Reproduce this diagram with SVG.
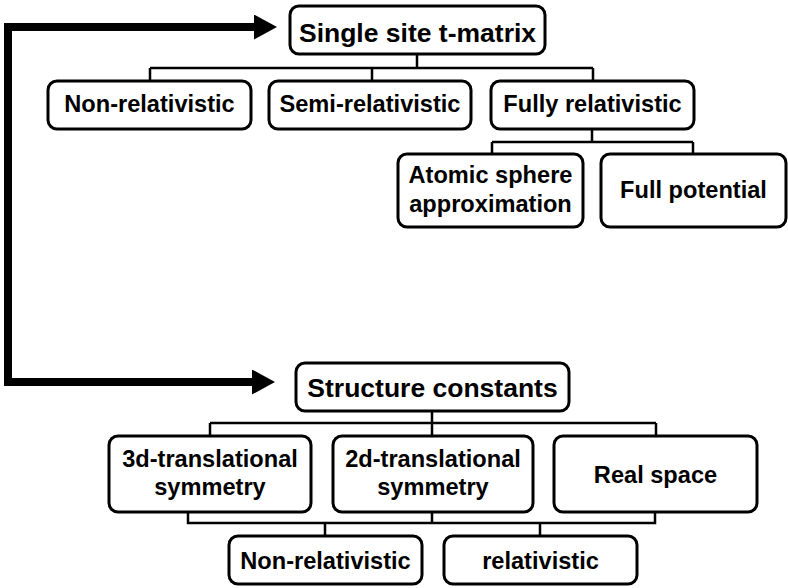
<svg xmlns="http://www.w3.org/2000/svg" width="788" height="588" viewBox="0 0 788 588">
<defs>
<style>
.node rect{fill:#fff;stroke:#000;stroke-width:3}
.node text{font-family:"Liberation Sans",Arial,sans-serif;font-weight:bold;font-size:23.6px;fill:#000;text-anchor:middle}
.node text.big{font-size:26.5px}
.conn{fill:none;stroke:#000;stroke-width:2.5}
.arrow{fill:none;stroke:#000;stroke-width:8;stroke-linecap:square;stroke-linejoin:miter}
</style>
<marker id="head" markerUnits="userSpaceOnUse" markerWidth="24" markerHeight="26" refX="0" refY="12.5" orient="auto">
<path d="M0,0 L23,12.5 L0,25 Z" fill="#000"/>
</marker>
</defs>
<rect width="788" height="588" fill="#fff"/>
<g id="connectors">
<path class="arrow" d="M8,382 V27 H254" marker-end="url(#head)"/>
<path class="arrow" d="M8,382 H252" marker-end="url(#head)"/>
<path class="conn" d="M417,54 V68 M150,68 H593 M150,68 V81 M372,68 V81 M593,68 V81"/>
<path class="conn" d="M592,129 V142 M492,142 H693 M492,142 V154 M693,142 V154"/>
<path class="conn" d="M432,411 V423 M210,423 H656 M210,423 V436 M432,423 V436 M656,423 V436"/>
<path class="conn" d="M188,512 V523 H655 V512 M432,512 V523 M325,523 V536 M540,523 V536"/>
</g>
<g id="single-site" class="node"><rect x="290" y="6" width="255" height="48" rx="9"/><text class="big" x="417.5" y="42">Single site t-matrix</text></g>
<g id="non-rel-1" class="node"><rect x="48" y="81" width="203" height="48" rx="9"/><text x="149.5" y="112">Non-relativistic</text></g>
<g id="semi-rel" class="node"><rect x="269" y="81" width="202" height="48" rx="9"/><text x="370" y="112">Semi-relativistic</text></g>
<g id="fully-rel" class="node"><rect x="491" y="81" width="203" height="48" rx="9"/><text x="592.5" y="112">Fully relativistic</text></g>
<g id="asa" class="node"><rect x="398" y="154" width="185" height="73" rx="9"/><text x="490.5" y="183">Atomic sphere</text><text x="490.5" y="212">approximation</text></g>
<g id="full-pot" class="node"><rect x="601" y="154" width="185" height="73" rx="9"/><text x="693.5" y="198">Full potential</text></g>
<g id="structure" class="node"><rect x="296" y="363" width="273" height="48" rx="9"/><text class="big" x="432.5" y="397">Structure constants</text></g>
<g id="three-d" class="node"><rect x="109" y="436" width="202" height="76" rx="9"/><text x="210" y="467">3d-translational</text><text x="210" y="495">symmetry</text></g>
<g id="two-d" class="node"><rect x="333" y="436" width="200" height="76" rx="9"/><text x="433" y="467">2d-translational</text><text x="433" y="495">symmetry</text></g>
<g id="real-space" class="node"><rect x="554" y="436" width="203" height="76" rx="9"/><text x="655.5" y="483">Real space</text></g>
<g id="non-rel-2" class="node"><rect x="229" y="536" width="193" height="48" rx="9"/><text x="325.5" y="569">Non-relativistic</text></g>
<g id="rel" class="node"><rect x="444" y="536" width="193" height="48" rx="9"/><text x="540.5" y="569">relativistic</text></g>
</svg>
